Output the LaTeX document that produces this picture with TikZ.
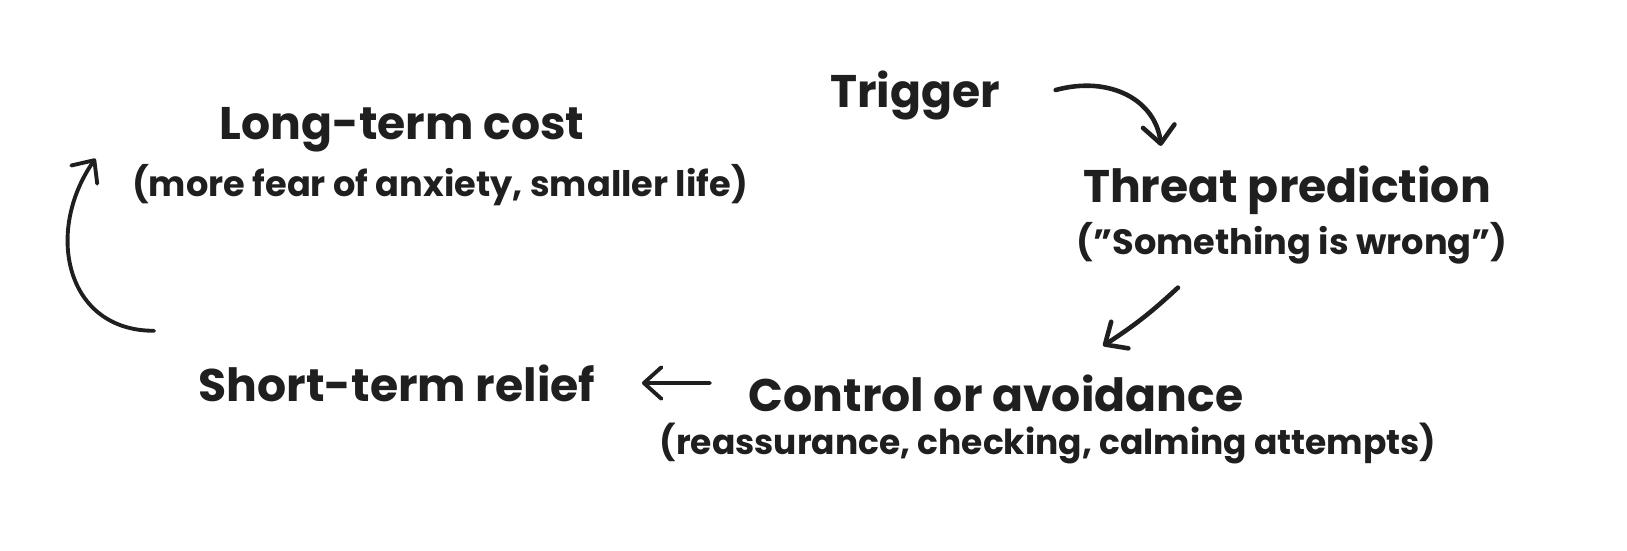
\documentclass[tikz,border=0pt]{standalone}
\usepackage{fontspec}
\setmainfont{Poppins}
\usepackage{tikz}
\usetikzlibrary{arrows.meta}
\definecolor{encre}{rgb}{0.12,0.12,0.12}

\begin{document}
\begin{tikzpicture}[x=0.01cm, y=-0.01cm]
	% STYLES
	\tikzstyle{titre} = [inner sep=0pt, text=encre, font=\fontsize{13}{15}\selectfont\bfseries]
	\tikzstyle{detail} = [inner sep=0pt, text=encre, font=\fontsize{10}{12}\selectfont\bfseries]
	\tikzstyle{fleche} = [line width=1.3pt, draw=encre, line cap=round, -{Straight Barb[round, length=5pt, width=9pt]}]

	% CADRE
	\useasboundingbox (0, 0) rectangle (1627, 550);

	% TEXTES
	\node[titre] (trig) at (915, 95) {Trigger};
	\node[titre] (menace) at (1287, 190) {Threat prediction};
	\node[detail] (menacedet) at (1292, 243) {("Something is wrong")};
	\node[titre] (ctrl) at (996, 393) {Control or avoidance};
	\node[detail, font=\fontsize{9.8}{12}\selectfont\bfseries] (ctrldet) at (1048, 443) {(reassurance, checking, calming attempts)};
	\node[titre] (court) at (397, 383) {Short-term relief};
	\node[titre] (cout) at (402, 130) {Long-term cost};
	\node[detail] (coutdet) at (440, 185) {(more fear of anxiety, smaller life)};

	% FLECHES
	% 1
	\draw[fleche] ([xshift=0.55cm, yshift=0.05cm]trig.east)
		.. controls +(55, -15) and +(-5, -45) .. ([xshift=-1.26cm, yshift=0.19cm]menace.north);
	% 2
	\draw[fleche] ([xshift=-1.14cm, yshift=-0.23cm]menacedet.south)
		to[bend left=5] ([xshift=1.07cm, yshift=0.28cm]ctrl.north);
	% 3
	\draw[fleche, line width=1.1pt] ([xshift=-0.38cm, yshift=0.1cm]ctrl.west) -- ([xshift=0.46cm]court.east);
	% 4
	\draw[fleche, line width=1.1pt] ([xshift=-0.44cm, yshift=0.33cm]court.north west)
		to[out=180, in=-125, looseness=1.25] ([xshift=-0.36cm, yshift=0.05cm]coutdet.north west);
\end{tikzpicture}
\end{document}
